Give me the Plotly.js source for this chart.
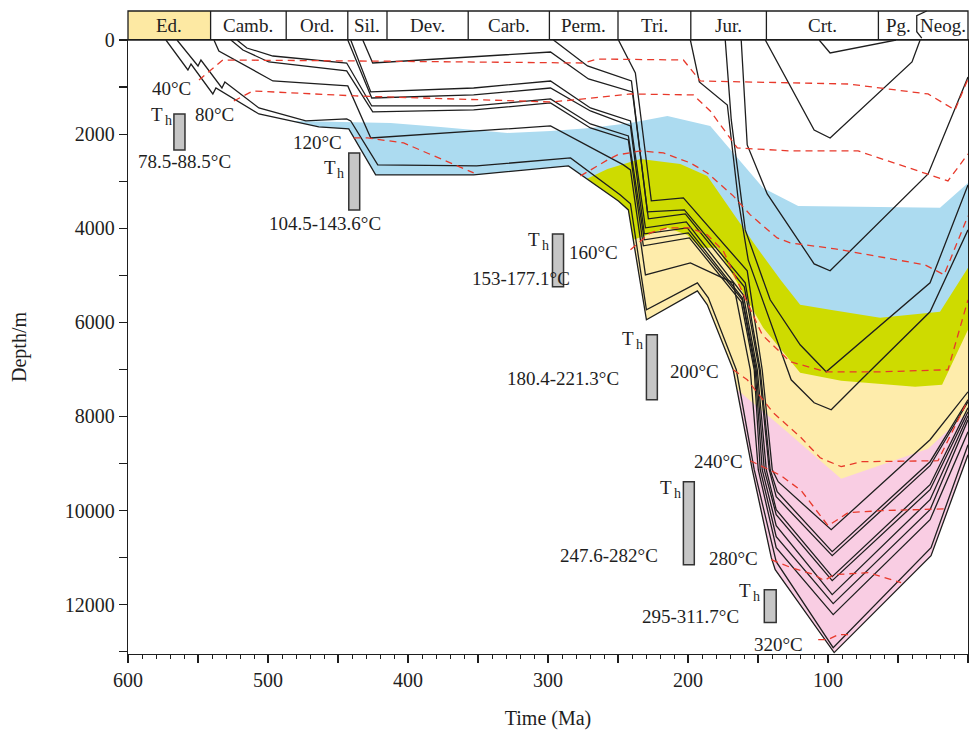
<!DOCTYPE html>
<html><head><meta charset="utf-8">
<script src="https://cdn.plot.ly/plotly-3.0.1.min.js"></script>
<style>html,body{margin:0;padding:0;background:#fff}</style>
</head><body><div id="chart" style="width:972px;height:738px"></div>
<script>
// ---------- Geological periods (Ma) ----------
const periodNames = ['Ed.','Camb.','Ord.','Sil.','Dev.','Carb.','Perm.','Tri.','Jur.','Crt.','Pg.','Neog.'];
const periodBounds = [600,541,487,443,415,357,299,250,198,144,64,36,0];

// ---------- Burial horizons (age Ma, depth m) ----------
const ed1Age = [572.9,557.2,555.0,539.4,537.2,506.5,463.7,442.3,423.1,353.1,285.4,249.7,242.6,229.7,193.3,186.2,167.7,154.1,140.5,137.7,95.6,26.4,0];
const ed1Dep = [0,637,510,1147,1020,1572,1848,1890,2867,2867,2676,3420,3611,5947,5331,5629,7009,9133,11002,11257,13020,10960,8815];
const ed2Age = [565.0,550.0,547.9,532.9,530.8,506.5,473.0,443.8,440.9,421.6,351.0,283.9,248.3,241.1,229.7,193.3,185.5,165.5,152.7,139.8,137.0,96.3,26.4,0];
const ed2Dep = [0,552,425,1020,892,1444,1720,1678,1720,2655,2676,2506,3292,3483,5735,5161,5480,7009,9133,10790,11087,12914,10790,8602];
const cam1Age = [538.6,535.1,496.5,443.0,426.6,298.2,246.1,241.1,230.4,198.3,167.7,155.5,149.8,137.0,96.3,27.1,0];
const cam1Dep = [0,234,871,977,2082,1827,2655,2761,4991,4736,5161,7009,9133,10790,12213,10195,8326];
const cam2Age = [526.5,517.9,499.4,443.8,425.2,353.1,298.2,269.7,242.6,231.9,199.0,162.0,152.7,148.4,137.0,96.3,27.1,0];
const cam2Dep = [0,212,467,658,1529,1487,1338,1869,2124,4375,4206,5565,7009,9133,10556,11979,9983,8071];
const cam3Age = [522.2,515.1,496.5,443.8,425.9,353.1,298.2,269.7,242.6,231.2,199.8,161.2,152.0,147.0,137.0,97.0,27.1,0];
const cam3Dep = [0,170,340,489,1402,1402,1253,1784,2039,4248,4099,5522,7009,9133,10323,11788,9770,7986];
const ord1Age = [443.0,425.9,353.1,298.2,269.7,241.1,231.2,200.5,161.2,151.3,145.5,137.0,97.0,27.1,0];
const ord1Dep = [0,1232,1168,1020,1508,1827,4121,3993,5480,7009,9133,10089,11491,9558,7901];
const ord2Age = [440.9,426.6,353.1,298.2,269.7,241.1,230.4,201.2,160.5,150.5,144.1,137.0,97.0,27.1,0];
const ord2Dep = [0,1104,1020,871,1444,1720,3993,3866,5416,7009,9133,9983,11406,9452,7816];
const silAge = [432.3,425.2,298.2,271.1,239.7,228.3,201.9,159.8,149.1,142.0,137.0,97.0,27.1,0];
const silDep = [0,489,255,828,1104,3802,3696,5246,7009,9133,9707,10960,9048,7689];
const permAge = [296.1,271.8,240.4,229.0,202.6,159.1,148.4,141.3,136.3,97.0,27.1,0];
const permDep = [0,552,871,3653,3611,5161,7009,9133,9601,10875,8963,7646];
const triAge = [249.7,237.6,226.2,203.3,157.7,147.0,139.8,135.6,97.7,27.1,0];
const triDep = [0,701,3420,3356,4906,7009,9133,9388,10408,8496,7477];
const jur1Age = [198.3,191.9,171.9,164.1,157.0,126.3,109.9,97.7,76.3,27.1,0];
const jur1Dep = [0,892,1381,3398,4673,7222,7710,7859,7222,5777,4036];
const jur2Age = [173.4,169.1,159.1,141.3,119.9,101.3,27.1,0];
const jur2Dep = [0,1699,4036,5522,6478,7052,5161,3080];
const jur3Age = [162.0,157.7,143.4,109.9,98.5,28.5,0];
const jur3Dep = [0,2230,3271,4758,4906,2846,786];
const crt1Age = [144.8,109.9,98.5,40.0,34.2];
const crt1Dep = [0,1912,2082,467,0];
const crt2Age = [106.3,98.5,51.4];
const crt2Dep = [0,276,0];

// ---------- Isotherms ----------
const t40Age = [549.3,532.2,435.2,274.7,264.7,203.3,191.2,127.0,85.6,28.5,9.3,0];
const t40Dep = [850,425,446,489,404,425,871,913,935,1147,1487,828];
const t80Age = [524.4,510.8,437.3,298.2,281.8,241.1,196.2,184.1,164.8,127.0,78.5,28.5,14.3,0];
const t80Dep = [1296,1083,1189,1317,1274,1147,1168,1508,2294,2358,2358,2846,2995,2421];
const t120Age = [438.8,428.8,403.1,353.1,null,276.8,257.5,250.4,234.0,217.6,198.3,186.2,167.7,155.5,136.3,127.0,94.9,30.7,17.1,0];
const t120Dep = [2082,2082,2188,2825,null,2889,2549,2443,2358,2400,2613,2825,3313,3717,4206,4312,4439,4779,4991,3738];
const t160Age = [241.1,226.9,214.7,198.3,186.2,174.8,161.2,147.0,127.0,101.3,62.8,14.3,0];
const t160Dep = [4460,4099,3993,3993,4142,4482,5352,6266,6839,7052,7052,7009,5522];
const t200Age = [167.7,157.7,139.1,119.9,105.6,90.6,76.3,21.4,0];
const t200Dep = [7009,7222,7923,8432,8879,9069,8963,8942,7646];
const t240Age = [155.5,133.4,119.1,99.9,85.6,62.1,14.3];
const t240Dep = [8942,9261,9580,10323,10046,10004,9962];
const t280Age = [140.5,126.3,109.9,102.7,95.6,71.3,47.8];
const t280Dep = [11045,11215,11363,11491,11363,11321,11533];
const t320Age = [107.0,99.9,92.7,83.5];
const t320Dep = [12744,12744,12638,12638];

// ---------- Maturity zone upper boundaries ----------
const blueTopAge = [482.3,448.0,412.4,376.7,328.9,298.2,269.7,241.1,214.7,184.1,146.3,121.3,20.0,0];
const blueTopDep = [1720,1742,1763,1848,1975,1933,1869,1763,1614,1827,3144,3526,3568,3037];
const greenTopAge = [272.5,257.5,234.0,205.5,186.2,152.7,133.4,119.9,98.5,62.8,20.0,0];
const greenTopDep = [2952,2740,2528,2634,2889,4333,5119,5629,5735,5905,5777,4843];
const yellowTopAge = [239.0,230.4,214.7,200.5,191.2,179.1,146.3,119.9,90.6,37.8,18.5,0];
const yellowTopDep = [4248,4163,3993,4142,4418,4418,6117,7073,7243,7370,7328,6160];
const pinkTopAge = [164.8,133.4,90.6,28.5,0];
const pinkTopDep = [7434,8220,9324,8687,7901];

// ---------- Homogenization temperature boxes ----------
const thAgeOld = [567.2,442.3,296.8,229.7,203.3,145.5];
const thAgeYoung = [559.3,434.5,288.9,221.9,195.5,137.0];
const thDepTop = [1572,2400,4121,6266,9388,11682];
const thDepBot = [2336,3611,5246,7646,11151,12383];
const thLabelAge = [576.4,453.0,306.8,239.7,212.6,156.2];
const thLabelDep = [1593,2700,4248,6351,9516,11703];
const thRangeText = ['78.5-88.5°C','104.5-143.6°C','153-177.1°C','180.4-221.3°C','247.6-282°C','295-311.7°C'];
const thRangeAge = [560.0,459.4,319.6,289.6,256.1,198.3];
const thRangeDep = [2591,3908,5076,7200,10960,12255];

// ---------- Isotherm labels ----------
const isoText = ['40°C','80°C','120°C','160°C','200°C','240°C','280°C','320°C'];
const isoLabAge = [568.6,537.9,464.4,267.5,195.5,178.4,167.7,135.5];
const isoLabDep = [1041,1593,2180,4524,7052,8963,11024,12850];

// ---------- Build ----------
const FONT = '"Liberation Serif", "Times New Roman", Times, serif';
const BLACK = '#1e1e1e', RED = '#e8392b';
const TXT = 19;

function belowEd1(t0){
  const a=[], d=[];
  for(let i=ed1Age.length-1;i>=0;i--){
    if(ed1Age[i] < t0){ a.push(ed1Age[i]); d.push(ed1Dep[i]); }
    else {
      const f=(t0-ed1Age[i+1])/(ed1Age[i]-ed1Age[i+1]);
      a.push(t0); d.push(ed1Dep[i+1]+f*(ed1Dep[i]-ed1Dep[i+1]));
      break;
    }
  }
  return {a,d};
}
function zone(ta, td, color){
  const s = belowEd1(ta[0]);
  return {type:'scatter', mode:'lines', x:ta.concat(s.a), y:td.concat(s.d), fill:'toself',
          fillcolor:color, line:{width:0}, hoverinfo:'skip'};
}
function hline(a, d){
  return {type:'scatter', mode:'lines', x:a, y:d, line:{color:BLACK, width:1.3}, hoverinfo:'skip'};
}
function iso(a, d){
  return {type:'scatter', mode:'lines', x:a, y:d, connectgaps:false,
          line:{color:RED, width:1.3, dash:'7px,5px'}, hoverinfo:'skip'};
}

const traces = [
  zone(blueTopAge, blueTopDep, '#acdbf0'),
  zone(greenTopAge, greenTopDep, '#cedb00'),
  zone(yellowTopAge, yellowTopDep, '#feecab'),
  zone(pinkTopAge, pinkTopDep, '#f9cde3'),
  hline(ed1Age, ed1Dep), hline(ed2Age, ed2Dep),
  hline(cam1Age, cam1Dep), hline(cam2Age, cam2Dep), hline(cam3Age, cam3Dep),
  hline(ord1Age, ord1Dep), hline(ord2Age, ord2Dep), hline(silAge, silDep),
  hline(permAge, permDep), hline(triAge, triDep),
  hline(jur1Age, jur1Dep), hline(jur2Age, jur2Dep), hline(jur3Age, jur3Dep),
  hline(crt1Age, crt1Dep), hline(crt2Age, crt2Dep),
  iso(t40Age, t40Dep), iso(t80Age, t80Dep), iso(t120Age, t120Dep), iso(t160Age, t160Dep),
  iso(t200Age, t200Dep), iso(t240Age, t240Dep), iso(t280Age, t280Dep), iso(t320Age, t320Dep),
  {type:'scatter', mode:'lines', x:[], y:[], xaxis:'x2', yaxis:'y', hoverinfo:'skip'}
];

// period band
const BAND_LO = 1.0, BAND_HI = 1.0472;
const px = a => (600 - a) / 600;
const shapes = [];
shapes.push({type:'rect', xref:'paper', yref:'paper', x0:px(periodBounds[0]), x1:px(periodBounds[1]),
  y0:BAND_LO, y1:BAND_HI, fillcolor:'#fde9a3', line:{width:0}, layer:'below'});
shapes.push({type:'rect', xref:'paper', yref:'paper', x0:0, x1:1, y0:BAND_LO, y1:BAND_HI,
  line:{color:BLACK, width:1.3}});
for(let i=1;i<periodBounds.length-1;i++){
  if(periodNames[i]==='Neog.') continue;
  shapes.push({type:'line', xref:'paper', yref:'paper', x0:px(periodBounds[i]), x1:px(periodBounds[i]),
    y0:BAND_LO, y1:BAND_HI, line:{color:BLACK, width:1.3}});
}
shapes.push({type:'path', xref:'paper', yref:'paper',
  path:`M ${px(33.0)},${BAND_LO+0.003} L ${px(36.6)},${BAND_LO+0.0135} L ${px(36.6)},${BAND_LO+0.0396} L ${px(29.5)},${BAND_HI}`,
  line:{color:BLACK, width:1.3}});
for(let i=0;i<thAgeOld.length;i++){
  shapes.push({type:'rect', xref:'x', yref:'y', x0:thAgeOld[i], x1:thAgeYoung[i], y0:thDepTop[i], y1:thDepBot[i],
    fillcolor:'#c6c6c6', line:{color:'#333', width:1.5}});
}

const annotations = [];
const txtFont = s => ({family:FONT, size:s, color:BLACK});
for(let i=0;i<periodNames.length;i++){
  annotations.push({xref:'x', yref:'paper', x:(periodBounds[i]+periodBounds[i+1])/2, y:(BAND_LO+BAND_HI)/2,
    text:periodNames[i], showarrow:false, font:txtFont(TXT), xanchor:'center', yanchor:'middle'});
}
for(let i=0;i<isoText.length;i++){
  annotations.push({xref:'x', yref:'y', x:isoLabAge[i], y:isoLabDep[i], text:isoText[i], showarrow:false,
    font:txtFont(TXT), xanchor:'center', yanchor:'middle'});
}
for(let i=0;i<thRangeText.length;i++){
  annotations.push({xref:'x', yref:'y', x:thLabelAge[i], y:thLabelDep[i], text:'T', showarrow:false,
    font:txtFont(TXT), xanchor:'center', yanchor:'middle', xshift:-4});
  annotations.push({xref:'x', yref:'y', x:thLabelAge[i], y:thLabelDep[i], text:'h', showarrow:false,
    font:txtFont(14), xanchor:'center', yanchor:'middle', xshift:7, yshift:-6});
  annotations.push({xref:'x', yref:'y', x:thRangeAge[i], y:thRangeDep[i], text:thRangeText[i], showarrow:false,
    font:txtFont(TXT), xanchor:'center', yanchor:'middle'});
}

const midTicks = [];
for(let v=50; v<600; v+=100) midTicks.push(v);

const layout = {
  width:972, height:738,
  margin:{l:128, r:4, t:40, b:84, pad:0},
  paper_bgcolor:'#fff', plot_bgcolor:'#fff',
  showlegend:false, hovermode:false,
  font:{family:FONT, size:20, color:BLACK},
  xaxis:{range:[600,0], tickmode:'linear', tick0:0, dtick:100,
    ticks:'outside', ticklen:8, tickwidth:1.2, tickcolor:BLACK,
    minor:{tickmode:'linear', tick0:0, dtick:10, ticklen:4, ticks:'outside', tickcolor:BLACK, tickwidth:1},
    showline:true, linecolor:BLACK, linewidth:1.3, mirror:true, showgrid:false, zeroline:false,
    tickfont:txtFont(20),
    title:{text:'Time (Ma)', standoff:20, font:txtFont(20)}},
  xaxis2:{range:[600,0], overlaying:'x', anchor:'y', side:'bottom', tickmode:'array', tickvals:midTicks,
    ticks:'outside', ticklen:8, tickwidth:1.2, tickcolor:BLACK, showticklabels:false,
    showline:false, showgrid:false, zeroline:false},
  yaxis:{range:[13050,0], tickmode:'linear', tick0:0, dtick:2000, tickformat:'d',
    ticks:'outside', ticklen:8, tickwidth:1.2, tickcolor:BLACK,
    minor:{tickmode:'linear', tick0:0, dtick:1000, ticklen:8, ticks:'outside', tickcolor:BLACK, tickwidth:1.2},
    showline:true, linecolor:BLACK, linewidth:1.3, mirror:true, showgrid:false, zeroline:false,
    tickfont:txtFont(20),
    title:{text:'Depth/m', standoff:32, font:txtFont(20)}},
  shapes, annotations
};

Plotly.newPlot('chart', traces, layout, {staticPlot:true, displayModeBar:false});
</script></body></html>
